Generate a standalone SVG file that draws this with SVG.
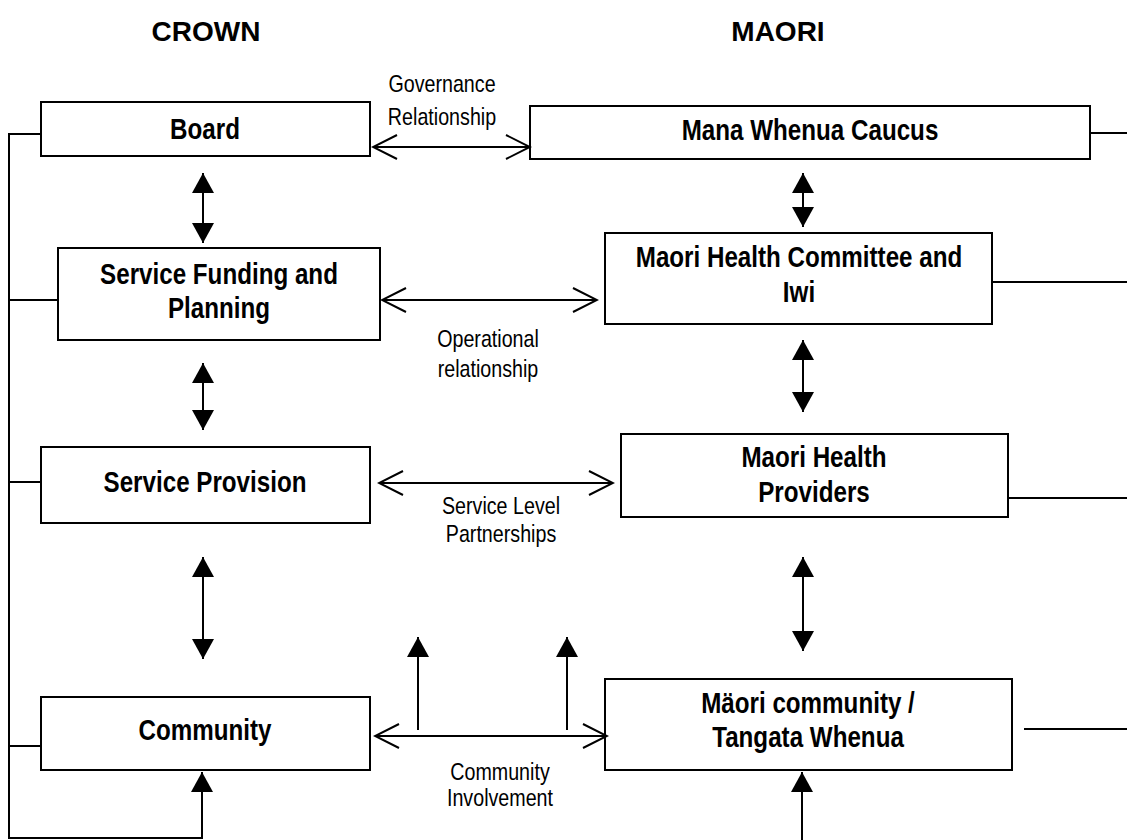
<svg xmlns="http://www.w3.org/2000/svg" width="1127" height="840" viewBox="0 0 1127 840">
  <style>
    .box { fill: #ffffff; stroke: #000000; stroke-width: 2; }
    .ln { fill: none; stroke: #000000; stroke-width: 2; }
    .t { font-family: "Liberation Sans", Arial, sans-serif; font-weight: bold; font-size: 29.5px; text-anchor: middle; fill: #000; }
    .lbl { font-family: "Liberation Sans", Arial, sans-serif; font-size: 24px; text-anchor: middle; fill: #000; }
    .hd { font-family: "Liberation Sans", Arial, sans-serif; font-weight: bold; font-size: 28px; text-anchor: middle; fill: #000; }
  </style>
  <defs>
    <marker id="open" markerUnits="userSpaceOnUse" markerWidth="30" markerHeight="30" viewBox="-28 -15 30 30" refX="0" refY="0" orient="auto-start-reverse">
      <path d="M-24,-12 L0,0 L-24,12" fill="none" stroke="#000" stroke-width="2"/>
    </marker>
    <marker id="fill" markerUnits="userSpaceOnUse" markerWidth="24" markerHeight="24" viewBox="-22 -12 24 24" refX="0" refY="0" orient="auto-start-reverse">
      <path d="M0,0 L-20,-11 L-20,11 Z" fill="#000"/>
    </marker>
  </defs>

  <text class="hd" x="206" y="41">CROWN</text>
  <text class="hd" x="778" y="41">MAORI</text>

  <g id="board"><rect class="box" x="41" y="102" width="329" height="54"/><text class="t" transform="translate(205,139) scale(0.82,1)">Board</text></g>
  <g id="mana-whenua-caucus"><rect class="box" x="530" y="106" width="560" height="53"/><text class="t" transform="translate(810,140) scale(0.82,1)">Mana Whenua Caucus</text></g>
  <g id="service-funding"><rect class="box" x="58" y="248" width="322" height="92"/><text class="t" transform="translate(219,284) scale(0.82,1)">Service Funding and</text><text class="t" transform="translate(219,318) scale(0.82,1)">Planning</text></g>
  <g id="maori-health-committee"><rect class="box" x="605" y="233" width="387" height="91"/><text class="t" transform="translate(799,267) scale(0.82,1)">Maori Health Committee and</text><text class="t" transform="translate(799,302) scale(0.82,1)">Iwi</text></g>
  <g id="service-provision"><rect class="box" x="41" y="447" width="329" height="76"/><text class="t" transform="translate(205,492) scale(0.82,1)">Service Provision</text></g>
  <g id="maori-health-providers"><rect class="box" x="621" y="434" width="387" height="83"/><text class="t" transform="translate(814,467) scale(0.82,1)">Maori Health</text><text class="t" transform="translate(814,502) scale(0.82,1)">Providers</text></g>
  <g id="community"><rect class="box" x="41" y="697" width="329" height="73"/><text class="t" transform="translate(205,740) scale(0.82,1)">Community</text></g>
  <g id="maori-community"><rect class="box" x="605" y="679" width="407" height="91"/><text class="t" transform="translate(808,713) scale(0.82,1)">Mäori community /</text><text class="t" transform="translate(808,747) scale(0.82,1)">Tangata Whenua</text></g>

  <g id="labels">
    <text class="lbl" transform="translate(442,92) scale(0.82,1)">Governance</text>
    <text class="lbl" transform="translate(442,125) scale(0.82,1)">Relationship</text>
    <text class="lbl" transform="translate(488,347) scale(0.82,1)">Operational</text>
    <text class="lbl" transform="translate(488,377) scale(0.82,1)">relationship</text>
    <text class="lbl" transform="translate(501,514) scale(0.82,1)">Service Level</text>
    <text class="lbl" transform="translate(501,542) scale(0.82,1)">Partnerships</text>
    <text class="lbl" transform="translate(500,780) scale(0.82,1)">Community</text>
    <text class="lbl" transform="translate(500,806) scale(0.82,1)">Involvement</text>
  </g>

  <g id="connectors">
    <line class="ln" x1="373" y1="147" x2="530" y2="147" marker-start="url(#open)" marker-end="url(#open)"/>
    <line class="ln" x1="382" y1="300" x2="597" y2="300" marker-start="url(#open)" marker-end="url(#open)"/>
    <line class="ln" x1="379" y1="483" x2="613" y2="483" marker-start="url(#open)" marker-end="url(#open)"/>
    <line class="ln" x1="375" y1="736" x2="607" y2="736" marker-start="url(#open)" marker-end="url(#open)"/>
    <line class="ln" x1="418" y1="730" x2="418" y2="637" marker-end="url(#fill)"/>
    <line class="ln" x1="567" y1="730" x2="567" y2="637" marker-end="url(#fill)"/>
    <line class="ln" x1="203" y1="173" x2="203" y2="243" marker-start="url(#fill)" marker-end="url(#fill)"/>
    <line class="ln" x1="203" y1="363" x2="203" y2="430" marker-start="url(#fill)" marker-end="url(#fill)"/>
    <line class="ln" x1="203" y1="557" x2="203" y2="659" marker-start="url(#fill)" marker-end="url(#fill)"/>
    <line class="ln" x1="803" y1="173" x2="803" y2="227" marker-start="url(#fill)" marker-end="url(#fill)"/>
    <line class="ln" x1="803" y1="340" x2="803" y2="412" marker-start="url(#fill)" marker-end="url(#fill)"/>
    <line class="ln" x1="803" y1="557" x2="803" y2="651" marker-start="url(#fill)" marker-end="url(#fill)"/>
    <line class="ln" x1="802" y1="840" x2="802" y2="772" marker-end="url(#fill)"/>
    <path class="ln" d="M41,134 H9 V838 H202 V772" marker-end="url(#fill)"/>
    <line class="ln" x1="9" y1="300" x2="58" y2="300"/>
    <line class="ln" x1="9" y1="482" x2="41" y2="482"/>
    <line class="ln" x1="9" y1="746" x2="41" y2="746"/>
    <line class="ln" x1="1090" y1="133" x2="1127" y2="133"/>
    <line class="ln" x1="992" y1="282" x2="1127" y2="282"/>
    <line class="ln" x1="1008" y1="498" x2="1127" y2="498"/>
    <line class="ln" x1="1024" y1="729" x2="1127" y2="729"/>
  </g>
</svg>
